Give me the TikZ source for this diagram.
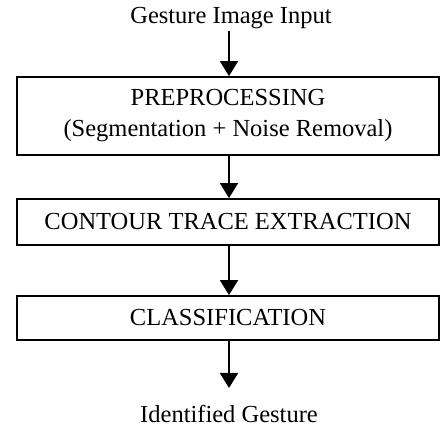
\documentclass[tikz,border=0pt]{standalone}
\usepackage{fontspec}
\setmainfont{Liberation Serif}
\usetikzlibrary{arrows.meta}
\begin{document}
\begin{tikzpicture}[x=1pt,y=1pt,
  every node/.style={font=\fontsize{24.5}{31}\selectfont, inner sep=0pt, align=center},
  stagebox/.style={draw, line width=1.8pt, minimum width=422pt},
  flow/.style={line width=1.8pt, -{Triangle[length=15pt,width=18pt]}}]
\useasboundingbox (0,0) rectangle (440,-427);
\node (in) at (231,-18) {Gesture Image Input};
\node[stagebox, minimum height=78pt] (pre) at (228,-116) {PREPROCESSING\\(Segmentation + Noise Removal)};
\node[stagebox, minimum height=46pt] (ct) at (228,-222) {CONTOUR TRACE EXTRACTION};
\node[stagebox, minimum height=44pt] (cl) at (228,-318) {CLASSIFICATION};
\node (out) at (229,-414) {Identified Gesture};
\coordinate (a0) at (229,-31);
\coordinate (a1) at (229,-388);
\draw[flow] (a0) -- (a0 |- pre.north);
\draw[flow] (a0 |- pre.south) -- (a0 |- ct.north);
\draw[flow] (a0 |- ct.south) -- (a0 |- cl.north);
\draw[flow] (a0 |- cl.south) -- (a1);
\end{tikzpicture}
\end{document}
